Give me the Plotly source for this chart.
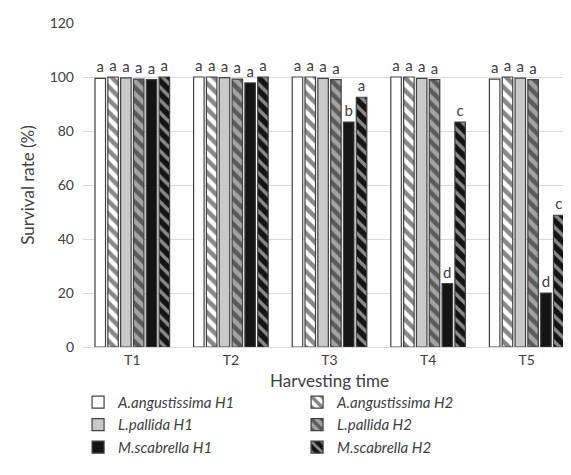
import plotly.graph_objects as go

categories = ["T1", "T2", "T3", "T4", "T5"]
series_names = ["A.angustissima H1", "A.angustissima H2", "L.pallida H1",
                "L.pallida H2", "M.scabrella H1", "M.scabrella H2"]

a_ang_h1 = [99.5, 100.0, 100.0, 100.0, 99.2]
a_ang_h2 = [100.0, 100.0, 100.0, 100.0, 100.0]
l_pal_h1 = [99.7, 99.8, 99.5, 99.5, 99.6]
l_pal_h2 = [99.2, 99.2, 99.0, 99.0, 99.0]
m_sca_h1 = [99.0, 97.8, 83.3, 23.5, 20.0]
m_sca_h2 = [100.0, 100.0, 92.5, 83.3, 48.8]

letters_a_ang_h1 = ["a", "a", "a", "a", "a"]
letters_a_ang_h2 = ["a", "a", "a", "a", "a"]
letters_l_pal_h1 = ["a", "a", "a", "a", "a"]
letters_l_pal_h2 = ["a", "a", "a", "a", "a"]
letters_m_sca_h1 = ["a", "a", "b", "d", "d"]
letters_m_sca_h2 = ["a", "a", "a", "c", "c"]

values = [a_ang_h1, a_ang_h2, l_pal_h1, l_pal_h2, m_sca_h1, m_sca_h2]
letters = [letters_a_ang_h1, letters_a_ang_h2, letters_l_pal_h1,
           letters_l_pal_h2, letters_m_sca_h1, letters_m_sca_h2]

styles = [
    dict(bg="#ffffff", shape="", fg=None, sol=0),
    dict(bg="#ffffff", shape="\\", fg="#111111", sol=0.5),
    dict(bg="#c9c9c9", shape="", fg=None, sol=0),
    dict(bg="#a3a3a3", shape="\\", fg="#111111", sol=0.5),
    dict(bg="#141414", shape="", fg=None, sol=0),
    dict(bg="#141414", shape="\\", fg="#ffffff", sol=0.38),
]

FONT = "Lato, 'Open Sans', sans-serif"

fig = go.Figure()
for name, vals, labs, st in zip(series_names, values, letters, styles):
    marker = dict(color=st["bg"], line=dict(color="#404040", width=1.2))
    if st["shape"]:
        marker["pattern"] = dict(shape=st["shape"], fgcolor=st["fg"], bgcolor=st["bg"],
                                 size=9, solidity=st["sol"], fillmode="overlay")
    fig.add_trace(go.Bar(
        x=categories, y=vals, name=name, marker=marker,
        text=labs, textposition="outside", cliponaxis=False,
        textfont=dict(family=FONT, size=15, color="#404040"),
    ))

fig.update_layout(
    width=571, height=475,
    margin=dict(l=75, r=3, t=15, b=136),
    paper_bgcolor="white", plot_bgcolor="white",
    barmode="group", bargap=0.22, bargroupgap=0.18,
    font=dict(family=FONT, size=14, color="#404040"),
    showlegend=True,
    legend=dict(
        orientation="h", x=-0.01, xanchor="left", y=-0.12, yanchor="top",
        entrywidth=174, entrywidthmode="pixels", itemwidth=30,
        font=dict(family=FONT, size=15, color="#404040", style="italic"),
        tracegroupgap=0, traceorder="normal",
    ),
    xaxis=dict(
        title=dict(text="Harvesting time", font=dict(size=17, color="#404040"), standoff=8),
        showgrid=False, showline=True, linecolor="#d9d9d9", linewidth=1,
        tickfont=dict(size=14, color="#404040"), ticks="", automargin=False,
    ),
    yaxis=dict(
        title=dict(text="Survival rate (%)", font=dict(size=17, color="#404040"), standoff=10),
        range=[0, 120], dtick=20, showgrid=True, gridcolor="#d9d9d9", gridwidth=1,
        zeroline=False, showline=False, ticks="", ticklabelstandoff=8,
        tickfont=dict(size=14, color="#404040"), automargin=False,
    ),
)

fig.write_html("out.html")
